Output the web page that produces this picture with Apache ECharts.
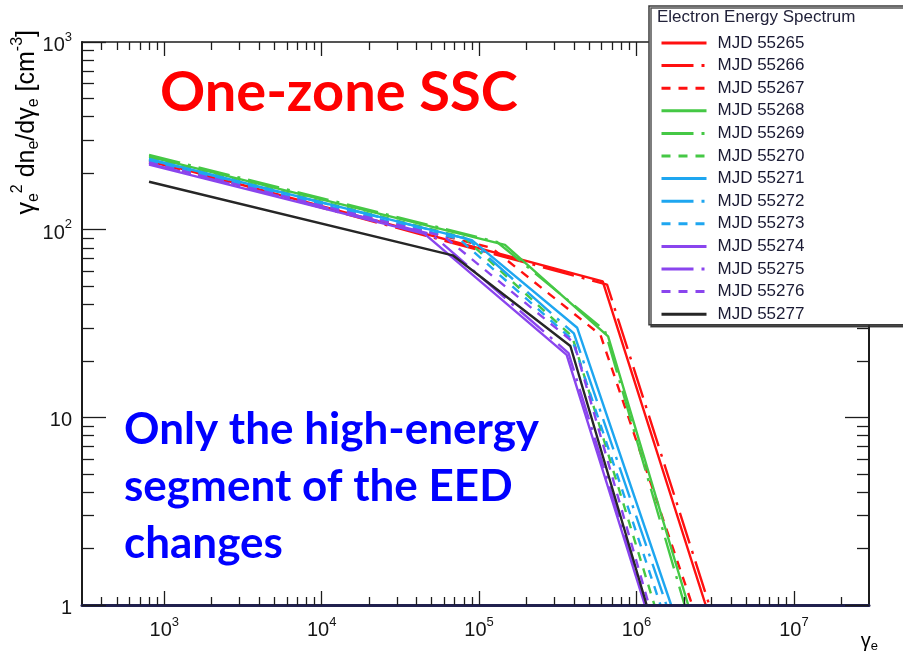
<!DOCTYPE html>
<html>
<head>
<meta charset="utf-8">
<title>Electron Energy Spectrum</title>
<script src="https://cdn.jsdelivr.net/npm/echarts@6.0.0/dist/echarts.min.js"></script>
<style>
html,body{margin:0;padding:0;background:#ffffff;}
#chart{width:903px;height:653px;}
</style>
</head>
<body>
<div id="chart"></div>
<script>
// ---------------- data (gamma_e, gamma_e^2 dn/dgamma) ----------------
const seriesNames = ['MJD 55265','MJD 55266','MJD 55267','MJD 55268','MJD 55269','MJD 55270',
                     'MJD 55271','MJD 55272','MJD 55273','MJD 55274','MJD 55275','MJD 55276','MJD 55277'];

const mjd55265 = [[800,235],[6.1e5,53],[2.75e6,1]];
const mjd55266 = [[800,232],[6.5e5,51],[2.9e6,1]];
const mjd55267 = [[800,228],[1.2e5,80],[5.9e5,27.5],[2.26e6,1]];
const mjd55268 = [[800,245],[1.46e5,83],[6.6e5,27],[2.13e6,1]];
const mjd55269 = [[800,250],[1.3e5,86],[6.3e5,29],[2.02e6,1]];
const mjd55270 = [[800,240],[8e4,91],[3.9e5,27],[1.3e6,1]];
const mjd55271 = [[800,238],[9e4,88],[4.2e5,30],[1.66e6,1]];
const mjd55272 = [[800,236],[8.5e4,89],[4.0e5,28],[1.55e6,1]];
const mjd55273 = [[800,232],[7.5e4,89],[3.9e5,26],[1.42e6,1]];
const mjd55274 = [[800,222],[4.5e4,95],[3.6e5,21.5],[1.13e6,1]];
const mjd55275 = [[800,225],[5e4,94.5],[3.7e5,22],[1.15e6,1]];
const mjd55276 = [[800,228],[6e4,92],[4.0e5,25],[1.2e6,1]];
const mjd55277 = [[800,180],[6.8e4,73],[3.8e5,24],[1.16e6,1]];

const seriesData = [mjd55265,mjd55266,mjd55267,mjd55268,mjd55269,mjd55270,
                    mjd55271,mjd55272,mjd55273,mjd55274,mjd55275,mjd55276,mjd55277];

// axis ranges and tick labels (powers of ten)
const xMin = 300, xMax = 3e7;
const yMin = 1, yMax = 1000;
const xTickExps = [3,4,5,6,7];
const yTickExps = [0,1,2,3];

// ---------------- styles ----------------
const RED='#ff1010', GREEN='#45c845', BLUE='#1ea6f0', PURPLE='#8a45ee', BLACK='#262626';
const SOLID='solid', DASHDOT=[32,8,3,8], DASHED=[9,8];
const lineColors = [RED,RED,RED,GREEN,GREEN,GREEN,BLUE,BLUE,BLUE,PURPLE,PURPLE,PURPLE,BLACK];
const lineTypes  = [SOLID,DASHDOT,DASHED,SOLID,DASHDOT,DASHED,SOLID,DASHDOT,DASHED,SOLID,DASHDOT,DASHED,SOLID];
const FRAME = '#1c1c1c';
const TICKFONT = 'Liberation Sans';

// tick positions on linear overlay axes expressed in log10 units
const LX = [Math.log10(xMin), Math.log10(xMax)];
const LY = [Math.log10(yMin), Math.log10(yMax)];
function minorLogTicks(lo, hi){
  const out=[];
  for(let e=Math.floor(lo); e<=Math.ceil(hi); e++){
    for(let k=2;k<=9;k++){ const v=e+Math.log10(k); if(v>lo+1e-9 && v<hi-1e-9) out.push(v); }
  }
  return out;
}
const xMinor = minorLogTicks(LX[0], LX[1]);
const yMinor = minorLogTicks(LY[0], LY[1]);

const tickRich = {
  b:{fontFamily:TICKFONT, fontSize:20, color:'#151515', lineHeight:20, padding:[7,0,0,0]},
  s:{fontFamily:TICKFONT, fontSize:13, color:'#151515', lineHeight:13, padding:[2,0,12,0]}
};
function powLabel(v){
  const e = Math.round(v);
  if(e===0) return '{b|1}';
  if(e===1) return '{b|10}';
  return '{b|10}{s|'+e+'}';
}

function overlay(pos, range, ticks, len, lineOpt, labelOpt){
  return {
    type:'value', gridIndex:0, position:pos, min:range[0], max:range[1],
    axisLine: lineOpt ? Object.assign({show:true, onZero:false}, lineOpt) : {show:false, onZero:false},
    axisTick:{show:true, inside:true, length:len, customValues:ticks, lineStyle:{color:FRAME, width:1.3}},
    axisLabel: labelOpt ? labelOpt : {show:false},
    splitLine:{show:false}, minorTick:{show:false}, silent:true, z:3
  };
}

const xAxes = [
  {type:'log', logBase:10, min:xMin, max:xMax, gridIndex:0, position:'bottom',
   axisLine:{show:false}, axisTick:{show:false}, axisLabel:{show:false}, splitLine:{show:false}},
  overlay('bottom',LX,xTickExps,14,{lineStyle:{color:'#20204e', width:3}},
     {show:true, customValues:xTickExps, formatter:powLabel, rich:tickRich, margin:12}),
  overlay('bottom',LX,xMinor,8,null,null),
  overlay('top',LX,xTickExps,14,{lineStyle:{color:FRAME, width:1.6}},null),
  overlay('top',LX,xMinor,8,null,null)
];
const yAxes = [
  {type:'log', logBase:10, min:yMin, max:yMax, gridIndex:0, position:'left',
   axisLine:{show:false}, axisTick:{show:false}, axisLabel:{show:false}, splitLine:{show:false}},
  overlay('left',LY,yTickExps,24,{lineStyle:{color:FRAME, width:2}},
     {show:true, customValues:yTickExps, formatter:powLabel, rich:tickRich, margin:10}),
  overlay('left',LY,yMinor,12,null,null),
  overlay('right',LY,yTickExps,24,{lineStyle:{color:FRAME, width:2}},null),
  overlay('right',LY,yMinor,12,null,null)
];

const series = seriesNames.map((name,i)=>({
  name:name, type:'line', xAxisIndex:0, yAxisIndex:0,
  data:seriesData[i], symbol:'none', showSymbol:false, clip:true,
  lineStyle:{color:lineColors[i], width:2.4, type:lineTypes[i]},
  itemStyle:{color:lineColors[i]},
  emphasis:{disabled:true}, z:2+i*0.01
}));

const titleRich = {
  m:{fontFamily:TICKFONT, fontSize:25, color:'#151515', lineHeight:25, padding:[7,0,4,0]},
  sp:{fontFamily:TICKFONT, fontSize:16, color:'#151515', lineHeight:16, padding:[2,0,18,0]},
  sb:{fontFamily:TICKFONT, fontSize:16, color:'#151515', lineHeight:16, padding:[18,0,2,0]}
};
const xTitleRich = {
  m:{fontFamily:TICKFONT, fontSize:20, color:'#151515', lineHeight:20, padding:[6,0,4,0]},
  sb:{fontFamily:TICKFONT, fontSize:13, color:'#151515', lineHeight:13, padding:[15,0,2,0]}
};

const option = {
  animation:false,
  backgroundColor:'#ffffff',
  grid:{left:82, right:34, top:42, bottom:48, containLabel:false, outerBoundsMode:'none'},
  xAxis:xAxes,
  yAxis:yAxes,
  legend:{
    data:seriesNames, orient:'vertical', left:649, top:6,
    padding:[28.5,120,2,11], itemWidth:45, itemHeight:14, itemGap:5.6,
    backgroundColor:'#ffffff', borderColor:'#3a3a3a', borderWidth:1.5,
    shadowColor:'rgba(40,40,40,0.8)', shadowOffsetX:2, shadowOffsetY:2, shadowBlur:0,
    textStyle:{fontFamily:TICKFONT, fontSize:17, color:'#1a1a33', lineHeight:14, padding:[0,0,0,6]},
    itemStyle:{opacity:0, borderWidth:0},
    lineStyle:{width:3},
    selectedMode:false, z:10
  },
  graphic:[
    {type:'text', z:100, x:657, y:17,
     style:{text:'Electron Energy Spectrum', fill:'#22223a', fontFamily:TICKFONT, fontSize:17, verticalAlign:'middle'}},
    {type:'text', z:100, x:160, y:93,
     style:{text:'One-zone SSC', fill:'#ff0000', fontFamily:'Lato', fontWeight:'bold', fontSize:56, verticalAlign:'middle'}},
    {type:'text', z:100, x:124, y:401,
     style:{text:'Only the high-energy\nsegment of the EED\nchanges', fill:'#0000ff', fontFamily:'Lato', fontWeight:'bold',
            fontSize:44, lineHeight:57, verticalAlign:'top'}},
    {type:'text', z:100, x:26, y:30, rotation:Math.PI/2,
     style:{text:'{m|γ}{sb|e}{sp|2}{m| dn}{sb|e}{m|/dγ}{sb|e}{m| [cm}{sp|-3}{m|]}', rich:titleRich, align:'right', verticalAlign:'middle'}},
    {type:'text', z:100, x:878, y:640,
     style:{text:'{m|γ}{sb|e}', rich:xTitleRich, align:'right', verticalAlign:'middle'}}
  ],
  series:series
};

const chart = echarts.init(document.getElementById('chart'), null, {renderer:'canvas'});
chart.setOption(option);
</script>
</body>
</html>
